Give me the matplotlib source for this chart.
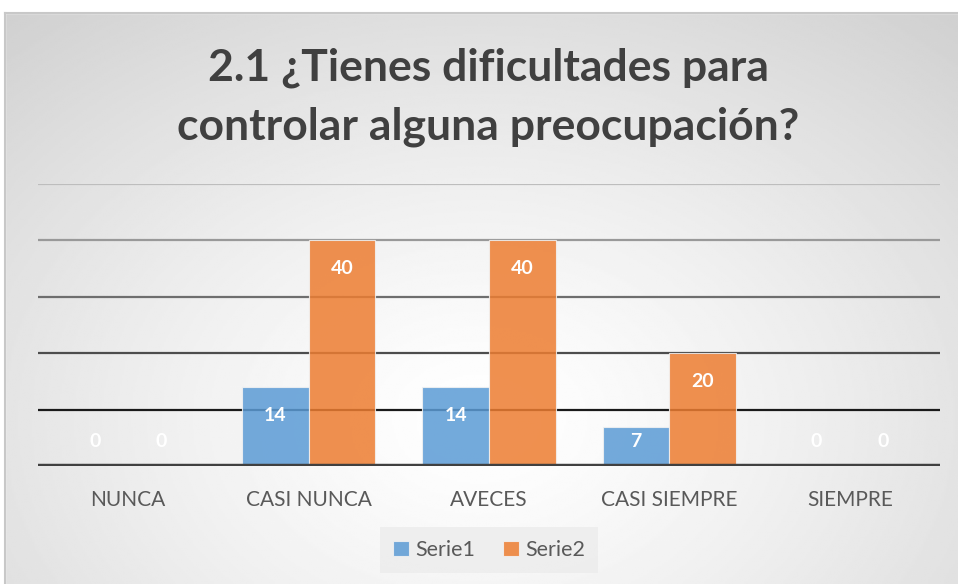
import numpy as np
import matplotlib.pyplot as plt

categorias = ["NUNCA", "CASI NUNCA", "AVECES", "CASI SIEMPRE", "SIEMPRE"]
serie1 = [0, 14, 14, 7, 0]
serie2 = [0, 40, 40, 20, 0]
nombres = ["Serie1", "Serie2"]
titulo = ["2.1 ¿Tienes dificultades para", "controlar alguna preocupación?"]

plt.rcParams['font.family'] = ['Lato', 'DejaVu Sans']

W, H = 958, 584
fig = plt.figure(figsize=(W / 100, H / 100), dpi=100)

# radial gradient background
bg = fig.add_axes([0, 0, 1, 1], zorder=-10)
yy, xx = np.mgrid[0:1:300j, 0:1:500j]
r = np.sqrt(((xx - 0.5) / 0.75) ** 2 + ((yy - 0.72) / 0.9) ** 2)
val = 1.0 - 0.18 * np.clip(r, 0, 1) ** 1.3
bg.imshow(val, cmap='gray', vmin=0, vmax=1, extent=[0, 1, 0, 1],
          aspect='auto', origin='upper')
bg.fill_between([0, 1], 1 - 13 / H, 1, color='white', zorder=2)
bg.fill_between([0, 5 / W], 0, 1, color='white', zorder=2)
bg.plot([5 / W, 1], [1 - 13 / H, 1 - 13 / H], color='#c8c8c8', lw=1.5, zorder=3)
bg.plot([5 / W, 5 / W], [0, 1 - 13 / H], color='#c8c8c8', lw=1.5, zorder=3)
bg.set_xlim(0, 1)
bg.set_ylim(0, 1)
bg.axis('off')

ax = fig.add_axes([38 / W, (H - 466) / H, 902 / W, 282 / H])
ax.patch.set_alpha(0)
x = np.arange(len(categorias))
w = 0.37

grid_cols = {10: '#1a1a1a', 20: '#4d4d4d', 30: '#6e6e6e', 40: '#999999', 50: '#bdbdbd'}
for v, c in grid_cols.items():
    ax.axhline(v, color=c, lw=1.6, zorder=0)
ax.axhline(0, color='#404040', lw=3.2, zorder=4)

b1 = ax.bar(x - w / 2, serie1, w, color='#5B9BD5', alpha=0.85,
            edgecolor='#f2f2f2', lw=0.8, label=nombres[0], zorder=2)
b2 = ax.bar(x + w / 2, serie2, w, color='#ED7D31', alpha=0.85,
            edgecolor='#f2f2f2', lw=0.8, label=nombres[1], zorder=2)

for bars, vals in ((b1, serie1), (b2, serie2)):
    for b, v in zip(bars, vals):
        ax.text(b.get_x() + b.get_width() / 2, max(v - 5.0, 4.3), str(v),
                ha='center', va='center', color='white', fontsize=14,
                fontweight='bold', zorder=5)

ax.set_xlim(-0.5, len(categorias) - 0.5)
ax.set_ylim(0, 50)
ax.set_xticks(x)
ax.set_xticklabels(categorias, fontsize=15, color='#595959')
ax.tick_params(axis='x', length=0, pad=17)
ax.set_yticks([])
for s in ax.spines.values():
    s.set_visible(False)

for i, linea in enumerate(titulo):
    fig.text(488 / W, 1 - (68 + 59 * i) / H, linea, ha='center', va='center',
             fontsize=32, fontweight='bold', color='#404040')

leg = ax.legend(loc='center', bbox_to_anchor=(489 / W, 1 - 550 / H),
                bbox_transform=fig.transFigure, ncol=2, frameon=True,
                fontsize=15.5, handlelength=0.75, handleheight=0.75,
                handletextpad=0.3, columnspacing=1.3, fancybox=False,
                borderpad=0.6)
leg.get_frame().set_facecolor('#ececec')
leg.get_frame().set_edgecolor('none')
for t in leg.get_texts():
    t.set_color('#595959')

fig.savefig('out.png', dpi=100)
